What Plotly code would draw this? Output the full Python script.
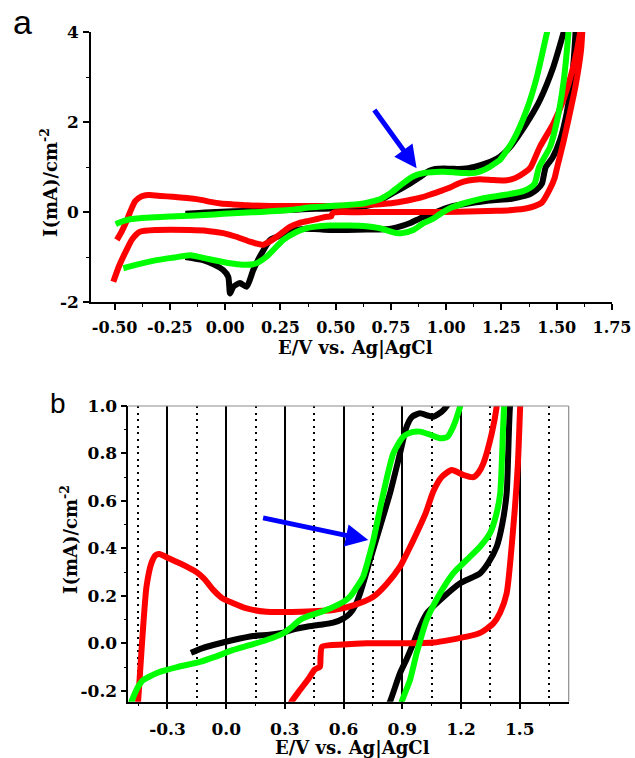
import plotly.graph_objects as go

# ---------------- data (E in V vs Ag|AgCl, I in mA cm^-2) ----------------
black_E = [-0.18, -0.12, -0.066, 0.036, 0.138, 0.22, 0.291, 0.35, 0.411, 0.48, 0.547, 0.60, 0.632, 0.66,
           0.684, 0.71, 0.735, 0.786, 0.837, 0.888, 0.922, 0.95, 0.99, 1.03, 1.058, 1.10, 1.127, 1.18,
           1.243, 1.29, 1.334, 1.38, 1.424, 1.485, 1.53, 1.56, 1.59,
           1.585, 1.568, 1.545, 1.515, 1.48, 1.45, 1.433, 1.41, 1.382, 1.34, 1.297, 1.195, 1.093, 1.024,
           0.99, 0.956, 0.92, 0.888, 0.837, 0.80, 0.75, 0.70, 0.64, 0.55, 0.474, 0.40, 0.369, 0.32, 0.278,
           0.23, 0.203, 0.157, 0.127, 0.097, 0.067, 0.037, 0.022, 0.014, -0.009, -0.05, -0.10, -0.18]
black_I = [-0.04, -0.02, -0.007, 0.014, 0.031, 0.036, 0.045, 0.06, 0.07, 0.078, 0.087, 0.105, 0.126, 0.16,
           0.21, 0.28, 0.351, 0.491, 0.632, 0.80, 0.913, 0.955, 0.969, 0.96, 0.955, 0.975, 1.0, 1.08,
           1.23, 1.45, 1.75, 2.1, 2.49, 3.23, 3.97, 4.5, 5.0,
           4.0, 2.93, 2.2, 1.6, 1.2, 0.997, 0.632, 0.5, 0.407, 0.34, 0.295, 0.253, 0.182, 0.126,
           0.07, 0.0, -0.07, -0.126, -0.246, -0.31, -0.37, -0.39, -0.39, -0.40, -0.40, -0.38, -0.37, -0.40, -0.47,
           -0.56, -0.62, -0.99, -1.29, -1.66, -1.58, -1.66, -1.81, -1.44, -1.29, -1.17, -1.07, -1.0]

red_E = [-0.49, -0.47, -0.45, -0.43, -0.407, -0.381, -0.36, -0.342, -0.29, -0.237, -0.19, -0.151, -0.11,
         -0.066, -0.02, 0.036, 0.10, 0.206, 0.291, 0.377, 0.547, 0.65, 0.752, 0.82, 0.888, 0.93, 0.973,
         1.02, 1.058, 1.10, 1.152, 1.21, 1.263, 1.29, 1.314, 1.357, 1.382, 1.424, 1.485, 1.53, 1.575,
         1.605, 1.615, 1.625,
         1.61, 1.585, 1.555, 1.53, 1.51, 1.502, 1.49, 1.467, 1.433, 1.40, 1.365, 1.30, 1.229, 1.058,
         0.90, 0.718, 0.60, 0.49, 0.482, 0.479, 0.453, 0.42, 0.377, 0.334, 0.293, 0.26, 0.233, 0.20,
         0.172, 0.14, 0.112, 0.05, -0.009, -0.08, -0.16, -0.31, -0.386, -0.42, -0.446, -0.48, -0.506]
red_I = [-0.62, -0.45, -0.246, 0.0, 0.239, 0.34, 0.372, 0.376, 0.357, 0.337, 0.318, 0.30, 0.27,
         0.225, 0.19, 0.169, 0.148, 0.133, 0.132, 0.133, 0.14, 0.16, 0.196, 0.25, 0.323, 0.39, 0.464,
         0.55, 0.64, 0.70, 0.73, 0.71, 0.70, 0.72, 0.758, 0.885, 0.997, 1.45, 1.97, 2.49, 3.23,
         3.97, 4.5, 5.0,
         3.6, 2.8, 2.1, 1.55, 1.15, 0.997, 0.75, 0.49, 0.21, 0.13, 0.084, 0.045, 0.028, 0.003,
         0.0, 0.0, -0.005, -0.014, -0.06, -0.099, -0.11, -0.15, -0.197, -0.246, -0.33, -0.45, -0.55, -0.66,
         -0.73, -0.70, -0.66, -0.55, -0.47, -0.42, -0.40, -0.40, -0.44, -0.6, -0.84, -1.2, -1.55]

green_E = [-0.495, -0.484, -0.455, -0.424, -0.38, -0.339, -0.25, -0.134, -0.05, 0.036, 0.12, 0.206, 0.291,
           0.33, 0.377, 0.411, 0.462, 0.53, 0.60, 0.632, 0.67, 0.70, 0.725, 0.752, 0.803, 0.854, 0.905,
           0.95, 0.99, 1.04, 1.093, 1.13, 1.16, 1.195, 1.22, 1.243, 1.304, 1.364, 1.41, 1.455, 1.48,
           1.56, 1.553, 1.53, 1.50, 1.47, 1.42, 1.40, 1.379, 1.348, 1.30, 1.246, 1.16, 1.093, 1.024,
           0.973, 0.939, 0.897, 0.851, 0.80, 0.776, 0.74, 0.70, 0.625, 0.565, 0.474, 0.40, 0.369, 0.32,
           0.263, 0.188, 0.15, 0.127, 0.08, 0.022, -0.07, -0.159, -0.23, -0.31, -0.40, -0.461]
green_I = [-0.27, -0.246, -0.19, -0.155, -0.135, -0.12, -0.10, -0.078, -0.055, -0.028, -0.008, 0.014, 0.042,
           0.065, 0.098, 0.112, 0.126, 0.147, 0.175, 0.196, 0.24, 0.281, 0.35, 0.435, 0.632, 0.80, 0.871,
           0.89, 0.892, 0.88, 0.864, 0.87, 0.913, 0.997, 1.08, 1.16, 1.6, 2.27, 3.0, 3.97, 4.5,
           4.6, 4.0, 2.86, 2.0, 1.45, 0.997, 0.632, 0.54, 0.464, 0.41, 0.365, 0.295, 0.211, 0.098,
           -0.042, -0.155, -0.246, -0.40, -0.47, -0.47, -0.42, -0.36, -0.31, -0.30, -0.30, -0.33, -0.36, -0.45,
           -0.62, -0.99, -1.12, -1.16, -1.17, -1.14, -1.05, -0.96, -1.01, -1.07, -1.17, -1.25]

top_x_ticks = [-0.5, -0.25, 0.0, 0.25, 0.5, 0.75, 1.0, 1.25, 1.5, 1.75]
top_x_labels = ["-0.50", "-0.25", "0.00", "0.25", "0.50", "0.75", "1.00", "1.25", "1.50", "1.75"]
top_x_minor = [-0.375, -0.125, 0.125, 0.375, 0.625, 0.875, 1.125, 1.375, 1.625]
top_y_ticks = [-2, 0, 2, 4]
top_y_labels = ["-2", "0", "2", "4"]
top_y_minor = [-1, 1, 3]

bot_x_ticks = [-0.3, 0.0, 0.3, 0.6, 0.9, 1.2, 1.5]
bot_x_labels = ["-0.3", "0.0", "0.3", "0.6", "0.9", "1.2", "1.5"]
bot_x_minor = [-0.45, -0.15, 0.15, 0.45, 0.75, 1.05, 1.35, 1.65]
bot_y_ticks = [-0.2, 0.0, 0.2, 0.4, 0.6, 0.8, 1.0]
bot_y_labels = ["-0.2", "0.0", "0.2", "0.4", "0.6", "0.8", "1.0"]
bot_y_minor = [-0.1, 0.1, 0.3, 0.5, 0.7, 0.9]

# arrows: (tail E, tail I, tip E, tip I)
arrow_a = [0.670, 2.30, 0.866, 0.97]
arrow_b = [0.181, 0.530, 0.726, 0.435]

W, H = 635, 758
SERIF = "DejaVu Serif"
SANS = "Liberation Sans"

def px(x):
    return x / W

def py(y):
    return 1 - y / H

fig = go.Figure()
series = [("black", black_E, black_I), ("#ff0000", red_E, red_I), ("#00ff00", green_E, green_I)]
for axes in [("x", "y"), ("x2", "y2")]:
    for color, E, I in series:
        fig.add_trace(go.Scatter(x=E, y=I, mode="lines", xaxis=axes[0], yaxis=axes[1],
                                 line=dict(color=color, width=6, shape="spline", smoothing=0.6),
                                 showlegend=False, hoverinfo="skip"))

tickfont_top = dict(family=SERIF, size=16, color="black", weight="bold")
tickfont_bot = dict(family=SERIF, size=17, color="black", weight="bold")

common = dict(showline=True, linecolor="black", linewidth=1.5, ticks="outside", ticklen=6,
              tickwidth=1.5, tickcolor="black", zeroline=False, tickmode="array", automargin=False)

fig.update_layout(
    template="none",
    width=W, height=H, autosize=False, margin=dict(l=0, r=0, t=0, b=0, pad=0),
    paper_bgcolor="white", plot_bgcolor="white", showlegend=False,
    xaxis=dict(domain=[px(91), px(612)], range=[-0.607, 1.75], anchor="y", showgrid=False,
               tickvals=top_x_ticks, ticktext=top_x_labels, tickfont=tickfont_top, ticklabelstandoff=4,
               minor=dict(tickmode="array", tickvals=top_x_minor, ticks="outside", ticklen=3,
                          tickwidth=1.2, tickcolor="black", showgrid=False), **common),
    yaxis=dict(domain=[py(302), py(32)], range=[-2, 4], anchor="x", showgrid=False,
               tickvals=top_y_ticks, ticktext=top_y_labels, tickfont=tickfont_bot, ticklabelstandoff=1,
               minor=dict(tickmode="array", tickvals=top_y_minor, ticks="outside", ticklen=3,
                          tickwidth=1.2, tickcolor="black", showgrid=False), **common),
    xaxis2=dict(domain=[px(128.3), px(568.7)], range=[-0.5, 1.75], anchor="y2",
                showgrid=True, gridcolor="black", gridwidth=1.5,
                tickvals=bot_x_ticks, ticktext=bot_x_labels, tickfont=tickfont_bot, ticklabelstandoff=5,
                minor=dict(tickmode="array", tickvals=bot_x_minor, ticks="outside", ticklen=3,
                           tickwidth=1.2, tickcolor="black", showgrid=True, gridcolor="black",
                           gridwidth=2.2, griddash="2px,4.6px"), **common),
    yaxis2=dict(domain=[py(701.7), py(406)], range=[-0.246, 1.0], anchor="x2", showgrid=False,
                tickvals=bot_y_ticks, ticktext=bot_y_labels, tickfont=tickfont_bot, ticklabelstandoff=0,
                minor=dict(tickmode="array", tickvals=bot_y_minor, ticks="outside", ticklen=3,
                           tickwidth=1.2, tickcolor="black", showgrid=False), **common),
)

# gray frame (top and right) of panel b
fig.add_shape(type="line", xref="x2 domain", yref="y2 domain", x0=0, x1=1, y0=1, y1=1,
              line=dict(color="#8c8c8c", width=1.2))
fig.add_shape(type="line", xref="x2 domain", yref="y2 domain", x0=1, x1=1, y0=0, y1=1,
              line=dict(color="#8c8c8c", width=1.2))

# arrows
fig.add_annotation(x=arrow_a[2], y=arrow_a[3], ax=arrow_a[0], ay=arrow_a[1], xref="x", yref="y",
                   axref="x", ayref="y", text="", showarrow=True, arrowhead=2, arrowsize=0.9,
                   arrowwidth=5, arrowcolor="#0000ff")
fig.add_annotation(x=arrow_b[2], y=arrow_b[3], ax=arrow_b[0], ay=arrow_b[1], xref="x2", yref="y2",
                   axref="x2", ayref="y2", text="", showarrow=True, arrowhead=2, arrowsize=0.9,
                   arrowwidth=5, arrowcolor="#0000ff")

title_font = dict(family=SERIF, size=18, color="black", weight="bold")
ytitle = "I(mA)/cm<sup>-2</sup>"
xtitle = "E/V vs. Ag|AgCl"
for (x, y, txt, ang) in [(355, 348, xtitle, 0), (352, 748, xtitle, 0),
                         (49, 183, ytitle, -90), (69, 540, ytitle, -90)]:
    fig.add_annotation(x=px(x), y=py(y), xref="paper", yref="paper", text=txt, showarrow=False,
                       textangle=ang, font=title_font, xanchor="center", yanchor="middle")

fig.add_annotation(x=px(22.5), y=py(22), xref="paper", yref="paper", text="a", showarrow=False,
                   font=dict(family=SANS, size=34, color="black"), xanchor="center", yanchor="middle")
fig.add_annotation(x=px(57.5), y=py(403), xref="paper", yref="paper", text="b", showarrow=False,
                   font=dict(family=SANS, size=28, color="black"), xanchor="center", yanchor="middle")

# place the figure at the page's top-left corner (no default body margin)
fix_page = ("document.body.style.margin='0';document.body.style.overflow='hidden';"
            "var d=document.getElementById('{plot_id}');d.style.position='fixed';"
            "d.style.left='0px';d.style.top='0px';")

fig.write_html("out.html", post_script=fix_page, config={"displayModeBar": False})
